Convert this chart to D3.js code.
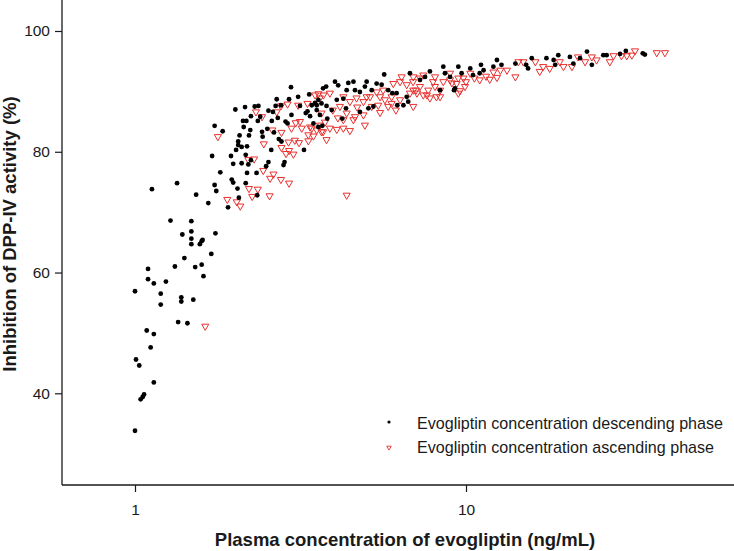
<!DOCTYPE html>
<html>
<head>
<meta charset="utf-8">
<script src="https://cdn.jsdelivr.net/npm/d3@7"></script>
<style>
  body { margin: 0; background: #fff; }
  svg { display: block; }
</style>
</head>
<body>
<script>
let w = 734;
let h = 551;

// tick labels
let xTicks = [1, 10];
let yTicks = [40, 60, 80, 100];
let legendLabels = ["Evogliptin concentration descending phase",
                    "Evogliptin concentration ascending phase"];

// [plasma concentration (ng/mL), inhibition (%)]
let descending = [
  [1.00,56.9],[1.095,60.6],[1.095,58.9],[1.14,58.2],[1.196,56.5],[1.196,54.7],[1.24,58.5],[1.32,61.0],
  [1.41,62.4],[1.38,55.9],[1.38,55.2],[1.35,51.8],[1.44,51.6],[1.50,55.5],[1.52,60.9],[1.59,61.3],
  [1.61,59.4],[1.70,63.1],[1.48,64.7],[1.57,64.7],[1.59,65.2],[1.085,50.4],[1.14,49.8],[1.115,47.6],
  [1.007,45.6],[1.03,44.6],[1.14,41.8],[1.065,39.8],[1.055,39.4],[1.04,39.0],[1.00,33.8],[1.125,73.8],
  [1.34,74.8],[1.53,72.9],[1.665,71.5],[1.71,79.3],[1.81,76.6],[1.74,74.5],[1.76,73.5],[1.91,70.8],
  [1.95,79.3],[1.98,78.0],[2.10,78.1],[1.98,74.9],[2.04,73.9],[2.06,72.4],[2.16,79.5],[2.18,76.5],
  [2.16,74.8],[2.20,77.9],[2.05,81.1],[2.10,80.8],[2.18,80.9],[1.28,68.6],[1.48,68.5],[1.39,66.3],
  [1.48,66.8],[1.48,65.6],[1.60,65.4],[1.75,66.5],[1.74,84.3],[1.84,83.4],[2.02,80.3],[2.05,81.7],
  [2.07,82.7],[2.01,87.0],[2.15,87.4],[2.12,85.1],[2.17,85.1],[2.13,84.1],[2.24,85.9],[2.23,83.6],
  [2.21,82.7],[2.30,87.5],[2.36,87.6],[2.35,85.1],[2.39,85.8],[2.42,83.3],[2.43,82.5],[2.24,78.6],
  [1.96,75.4],[2.33,76.5],[2.34,72.8],[2.49,77.6],[2.53,78.3],[2.51,83.8],[2.58,80.3],[2.53,86.8],
  [2.61,86.6],[2.63,83.2],[2.59,85.1],[2.70,85.6],[2.68,88.7],[2.76,87.7],[2.66,87.6],[2.72,82.1],
  [2.77,81.7],[2.85,85.0],[2.89,84.7],[2.92,88.7],[2.96,90.7],[2.83,78.3],[2.81,77.8],[2.97,86.1],
  [3.11,89.1],[3.15,87.6],[3.24,80.3],[3.28,86.4],[3.32,86.7],[3.36,89.5],[3.46,84.7],[3.50,88.1],
  [3.54,87.7],[3.58,88.6],[3.66,88.0],[3.70,90.5],[3.78,90.8],[3.79,87.6],[3.81,85.5],[4.02,91.6],
  [4.11,91.0],[4.36,90.2],[4.41,91.4],[4.57,91.6],[4.62,90.2],[4.78,89.9],[4.95,90.8],[5.01,91.6],
  [5.19,90.2],[5.37,91.3],[5.56,91.1],[5.66,92.8],[5.82,90.2],[5.99,89.7],[6.20,87.7],[6.62,89.1],
  [6.77,93.0],[6.69,88.3],[7.26,91.9],[7.52,92.4],[7.78,93.3],[8.54,94.1],[8.64,93.0],[8.95,92.4],
  [9.20,90.2],[9.48,94.1],[9.70,93.0],[3.42,87.7],[3.54,86.9],[3.62,86.1],[3.93,86.9],[4.07,88.6],
  [4.26,88.8],[4.34,87.2],[4.23,85.5],[4.78,86.6],[5.07,87.2],[5.25,87.5],[6.17,89.7],[6.47,87.7],
  [3.68,84.3],[3.58,84.1],[3.38,85.9],[8.35,90.2],[9.26,90.5],[10.3,93.8],[11.1,94.4],[11.3,93.5],
  [12.1,94.1],[12.4,95.2],[12.8,94.4],[14.1,94.6],[15.2,94.4],[15.4,93.8],[15.8,95.5],[17.5,95.5],
  [18.4,95.2],[19.0,96.0],[18.6,94.4],[20.6,95.7],[21.1,94.6],[22.1,95.5],[23.2,96.6],[24.0,94.4],
  [26.0,96.0],[26.6,96.0],[29.2,96.2],[30.4,96.7],[34.2,96.3],[34.7,96.1],[11.0,93.0],[10.5,92.7]
];

let ascending = [
  [1.63,51.1],[1.90,72.1],[2.03,71.7],[2.08,71.0],[1.78,82.5],[2.42,85.8],[2.32,86.6],[2.45,81.3],
  [2.20,78.7],[2.29,78.8],[2.44,76.9],[2.62,76.3],[2.56,75.6],[2.76,75.4],[2.92,74.8],[2.21,73.9],
  [2.35,73.8],[2.26,72.6],[2.55,72.7],[2.60,83.6],[2.68,86.6],[2.76,87.6],[2.89,87.9],[2.77,83.2],
  [2.91,81.6],[2.77,80.7],[2.92,80.2],[3.01,79.6],[3.04,81.9],[3.06,84.8],[3.11,87.7],[3.15,85.0],
  [3.19,83.9],[3.32,88.0],[3.34,82.8],[3.46,82.6],[3.54,83.6],[3.62,84.4],[3.66,83.3],[3.79,82.0],
  [3.58,89.6],[3.71,89.4],[3.66,86.4],[3.13,81.5],[3.34,81.8],[2.86,79.7],[3.50,89.4],[3.62,88.9],
  [3.88,89.7],[4.26,89.1],[4.46,88.3],[4.67,88.9],[4.16,87.5],[4.36,86.4],[4.57,85.3],[4.90,86.1],
  [5.19,87.5],[5.43,87.7],[5.50,86.5],[5.82,87.5],[5.96,89.1],[5.62,90.2],[5.37,89.9],[6.03,91.3],
  [6.32,91.6],[6.62,91.1],[6.77,89.7],[6.93,90.2],[7.26,90.8],[7.43,89.4],[7.78,88.9],[7.69,90.2],
  [8.06,90.8],[8.35,90.2],[8.54,91.6],[8.95,91.9],[9.37,91.3],[9.82,92.2],[9.48,89.7],[8.06,92.4],
  [7.43,92.7],[6.93,92.4],[6.39,92.4],[3.88,83.9],[4.07,83.7],[4.26,83.9],[4.46,83.5],[3.70,83.3],
  [3.42,83.9],[4.90,88.3],[5.01,89.1],[6.93,87.5],[8.35,89.1],[9.59,90.1],[9.93,90.8],[10.0,91.6],
  [10.6,92.2],[11.0,91.9],[11.8,92.0],[12.4,92.3],[12.7,93.5],[13.3,93.5],[14.1,92.4],[14.4,94.9],
  [14.9,94.9],[16.2,94.9],[16.7,93.3],[17.1,94.1],[17.9,93.8],[19.2,94.9],[19.7,94.1],[20.9,94.1],
  [21.8,95.7],[22.9,94.9],[24.0,95.7],[24.8,95.2],[27.2,94.9],[27.9,95.9],[29.5,95.9],[30.6,95.9],
  [31.7,96.0],[32.4,96.7],[37.7,96.4],[39.9,96.4],[4.36,72.8],[2.97,83.9],[3.38,84.1],[3.75,84.9],
  [4.26,85.3],[4.62,85.8],[5.50,89.1],[5.96,88.0],[6.32,88.6],[7.06,90.2],[8.14,89.1],
  [6.92,91.6],[7.26,92.2],[7.95,91.6],[8.95,93.0],[9.07,91.4],[9.48,92.2],[7.11,89.7],[7.62,89.4],
  [10.3,93.0],[12.1,93.2],[11.5,92.5],[3.96,86.9],[4.10,85.6],[4.69,87.4],[5.13,89.1],[5.69,88.6],
  [6.14,86.9],[4.95,84.4]
];

// Layout
let axisLeft = 62;
let axisBottom = 485;
let red = "#e8302e";
let ink = "#1a1a1a";

// Scales
let xScale = d3.scaleLog()
  .domain([1, 10])
  .range([135, 466]);

let yScale = d3.scaleLinear()
  .domain([40, 100])
  .range([393.3, 31]);

let svg = d3.select("body")
  .append("svg")
  .attr("width", w)
  .attr("height", h)
  .style("font-family", "'Liberation Sans', Arial, sans-serif");

// Axes (domain lines drawn separately so they span the whole frame)
let xAxis = svg.append("g")
  .attr("transform", "translate(0," + axisBottom + ")")
  .call(d3.axisBottom(xScale)
    .tickValues(xTicks)
    .tickFormat(d3.format("d"))
    .tickSize(7)
    .tickPadding(12));
xAxis.select(".domain").remove();

let yAxis = svg.append("g")
  .attr("transform", "translate(" + axisLeft + ",0)")
  .call(d3.axisLeft(yScale)
    .tickValues(yTicks)
    .tickSize(7)
    .tickPadding(5));
yAxis.select(".domain").remove();

svg.selectAll(".tick line").attr("stroke", ink).attr("stroke-width", 1.2);
svg.selectAll(".tick text")
  .attr("fill", ink)
  .attr("font-size", "15.5px")
  .attr("font-family", "'Liberation Sans', Arial, sans-serif");

svg.append("line")
  .attr("x1", axisLeft).attr("x2", w)
  .attr("y1", axisBottom).attr("y2", axisBottom)
  .attr("stroke", ink).attr("stroke-width", 1.3);

svg.append("line")
  .attr("x1", axisLeft).attr("x2", axisLeft)
  .attr("y1", 0).attr("y2", axisBottom)
  .attr("stroke", ink).attr("stroke-width", 1.3);

// Ascending phase: open red downward triangles
let tri = d3.symbol().type(d3.symbolTriangle).size(22);
svg.append("g")
  .selectAll("path")
  .data(ascending)
  .enter()
  .append("path")
  .attr("d", tri)
  .attr("transform", (d) => {
    return "translate(" + xScale(d[0]) + "," + yScale(d[1]) + ") rotate(180)";
  })
  .attr("fill", "none")
  .attr("stroke", red)
  .attr("stroke-width", 1);

// Descending phase: black dots
svg.append("g")
  .selectAll("circle")
  .data(descending)
  .enter()
  .append("circle")
  .attr("cx", (d) => xScale(d[0]))
  .attr("cy", (d) => yScale(d[1]))
  .attr("r", 2.4)
  .attr("fill", "#000");

// Legend
let legend = svg.append("g");
legend.append("circle")
  .attr("cx", 389).attr("cy", 422)
  .attr("r", 1.6)
  .attr("fill", "#000");
legend.append("path")
  .attr("d", d3.symbol().type(d3.symbolTriangle).size(9))
  .attr("transform", "translate(389,447.5) rotate(180)")
  .attr("fill", "none")
  .attr("stroke", red)
  .attr("stroke-width", 0.9);
legend.selectAll("text")
  .data(legendLabels)
  .enter()
  .append("text")
  .attr("x", 417)
  .attr("y", (d, i) => 429 + i * 24)
  .attr("font-size", "16.1px")
  .attr("fill", ink)
  .text((d) => d);

// Axis titles
svg.append("text")
  .attr("x", 405)
  .attr("y", 546)
  .attr("text-anchor", "middle")
  .attr("font-size", "18.5px")
  .attr("font-weight", "bold")
  .attr("fill", ink)
  .text("Plasma concentration of evogliptin (ng/mL)");

svg.append("text")
  .attr("transform", "translate(15.5,234) rotate(-90)")
  .attr("text-anchor", "middle")
  .attr("font-size", "18.5px")
  .attr("font-weight", "bold")
  .attr("fill", ink)
  .text("Inhibition of DPP-IV activity (%)");
</script>
</body>
</html>
